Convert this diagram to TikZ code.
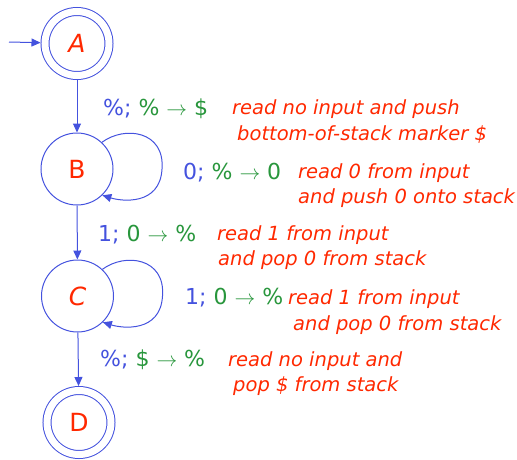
\documentclass[tikz,border=0pt]{standalone}
\usepackage{fontspec}
\setmainfont{DejaVu Sans}
\usetikzlibrary{arrows.meta}
\definecolor{stateblue}{RGB}{68,82,222}
\definecolor{stackgreen}{RGB}{40,150,60}
\definecolor{notered}{RGB}{255,40,0}
\begin{document}
\begin{tikzpicture}[x=1pt,y=-1pt,
  state/.style={circle,draw=stateblue,line width=1pt,minimum size=72pt,
    inner sep=0pt,text=notered,font=\fontsize{25}{25}\selectfont},
  final/.style={state,minimum size=64pt,double=white,double distance=7pt,outer sep=4.5pt},
  trans/.style={draw=stateblue,line width=1pt,-{Triangle[length=9pt,width=8pt]}},
  rule/.style={anchor=base west,inner sep=0pt,font=\fontsize{22}{22}\selectfont},
  note/.style={anchor=base west,inner sep=0pt,text=notered,font=\fontsize{19.5}{19.5}\selectfont\itshape}]
\useasboundingbox (0,0) rectangle (517,459);

% states
\node[final] (A) at (77,43.5) {\itshape A};
\node[state] (B) at (77,169) {B};
\node[state] (C) at (77.5,296) {\itshape C};
\node[final] (D) at (79,422.5) {D};

% transitions
\coordinate (start) at (9,42);
\draw[trans] (start) -- (A);
\draw[trans] (A) -- (B);
\draw[trans] (B) -- (C);
\draw[trans] (C) -- (D);
\draw[trans] (B.47) .. controls +(23,-17) and +(3,-38) .. ([xshift=85pt]B.center)
  .. controls +(-2,37) and +(19,6) .. (B.-46);
\draw[trans] (C.47) .. controls +(23,-17) and +(3,-38) .. ([xshift=85pt]C.center)
  .. controls +(-2,37) and +(19,6) .. (C.-46);

% transition labels
\node[rule] (l1) at (103,115) {\textcolor{stateblue}{\%;} \textcolor{stackgreen}{\% $\rightarrow$ \$}};
\node[note] (n1a) at (232,114) {read no input and push};
\node[note] (n1b) at (237,140) {bottom-of-stack marker \$};

\node[rule] (l2) at (183,179) {\textcolor{stateblue}{0;} \textcolor{stackgreen}{\% $\rightarrow$ 0}};
\node[note] (n2a) at (298,178) {read 0 from input};
\node[note] (n2b) at (298,203) {and push 0 onto stack};

\node[rule] (l3) at (98,241) {\textcolor{stateblue}{1;} \textcolor{stackgreen}{0 $\rightarrow$ \%}};
\node[note] (n3a) at (217,240) {read 1 from input};
\node[note] (n3b) at (218,265) {and pop 0 from stack};

\node[rule] (l4) at (185,304) {\textcolor{stateblue}{1;} \textcolor{stackgreen}{0 $\rightarrow$ \%}};
\node[note] (n4a) at (288,304) {read 1 from input};
\node[note] (n4b) at (293,330) {and pop 0 from stack};

\node[rule] (l5) at (100,366) {\textcolor{stateblue}{\%;} \textcolor{stackgreen}{\$ $\rightarrow$ \%}};
\node[note] (n5a) at (228,366) {read no input and};
\node[note] (n5b) at (233,391) {pop \$ from stack};
\end{tikzpicture}
\end{document}
